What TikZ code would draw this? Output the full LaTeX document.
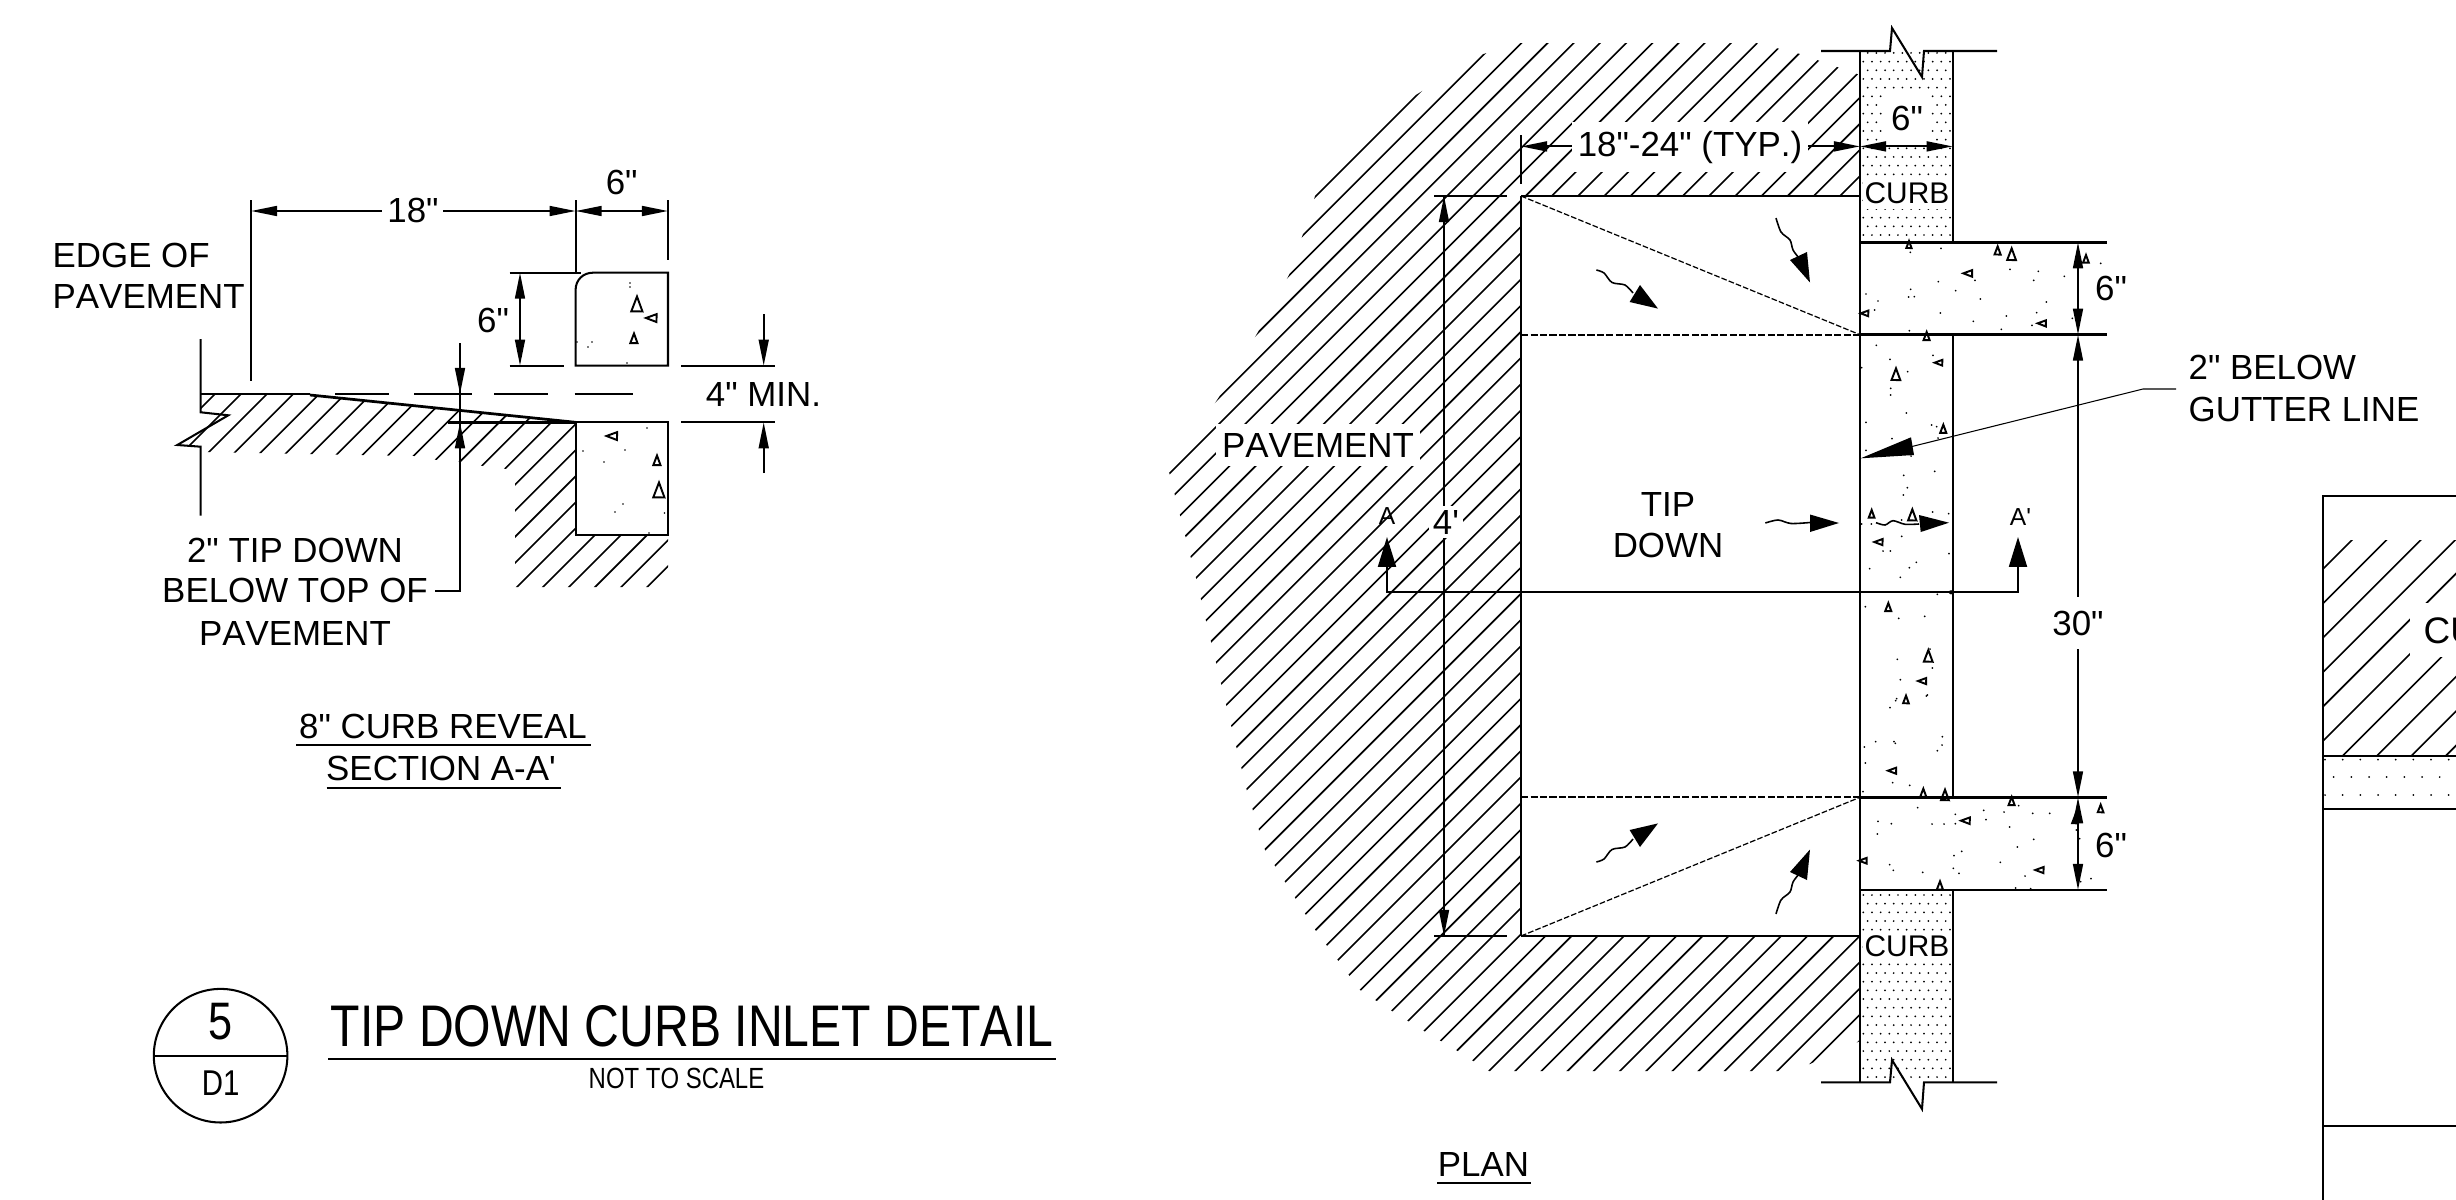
\documentclass[tikz,border=0pt]{standalone}
\usepackage{fontspec}
\setmainfont{Liberation Sans}
\newfontfamily\plainf[Kerning=Off]{Liberation Sans}
\newfontfamily\narrowf[FakeStretch=0.82,Kerning=Off]{Liberation Sans}
\usetikzlibrary{arrows.meta}
\newcommand{\fsz}[1]{\plainf\fontsize{#1}{#1}\selectfont}
\newcommand{\nsz}[1]{\narrowf\fontsize{#1}{#1}\selectfont}
\tikzset{
  ln/.style={line width=.58pt,line join=miter},
  heavy/.style={line width=.78pt},
  hatchln/.style={line width=.46pt},
  thinln/.style={line width=.3pt},
  dashln/.style={line width=.5pt,dash pattern=on 2pt off .7pt},
  dashthin/.style={line width=.35pt,dash pattern=on 1.6pt off .6pt},
  hd/.tip={Triangle[length=7.4pt,width=2.8pt]},
  dimboth/.style={ln,{hd}-{hd}},
  dimend/.style={ln,-{hd}},
  cutend/.style={line width=.6pt,-{Triangle[length=8.5pt,width=5.1pt]}},
  lab/.style={font=\fsz{9.92},inner sep=0pt},
  labbg/.style={lab,fill=white,inner xsep=1.6pt,inner ysep=2.6pt},
  small/.style={font=\fsz{8.5},inner sep=0pt,fill=white,inner xsep=.6pt,inner ysep=1.4pt},
  mini/.style={font=\fsz{7},inner sep=0pt},
  tris/.style={line width=.55pt,line join=miter},
  head/.style={fill=black,draw=none},
  wig/.style={line width=.45pt},
}
\newcommand{\trilist}[1]{\foreach \px/\py/\pa/\ps in {#1}{\draw[shift={(\px,\py)},tris] (\pa:\ps) -- ({\pa+140}:\ps) -- ({\pa+222}:\ps) -- cycle;}}
\newcommand{\dotlist}[1]{\foreach \px/\py in {#1}{\fill (\px,\py) circle[radius=.28pt];}}
\begin{document}
\begin{tikzpicture}[x=.01cm,y=-.01cm]
\useasboundingbox (0,0) rectangle (2456,1200);
\fill[white] (0,0) rectangle (2456,1200);

% ---------- SECTION (left) ----------
\begin{scope}
\clip (200.5,394) -- (311.6,395) -- (575.6,422.3) -- (575.6,535) -- (668,535) -- (668,587) -- (515,587) -- (515,470) -- (483,466) -- (460,462) -- (437,460) -- (414,456) -- (205,452) -- (188,446) -- (214,415) -- (200.5,413) -- cycle;
\foreach \k in {0,...,30}{
  \pgfmathsetmacro{\s}{609+26.05*\k}
  \draw[hatchln] (\s-100,100) -- (\s-800,800);
}
\end{scope}
% curb blocks
\draw[ln] (575.6,365.7) -- (575.6,290) .. controls (575.6,280) and (583,272.7) .. (593,272.7) -- (668,272.7) -- (668,365.7) -- cycle;
\draw[ln] (575.6,422.3) rectangle (668,535);
\trilist{637/305/-90/8.5,652/318/180/6,634/339/-90/5.5,612.5/436/180/6,657/461/-90/5.5,659/491/-90/8.5}
\dotlist{630/283,630/287,592/342,588/347,577/342,627/363,647/428,583/451,625/450,604/462,623/504,615/512,664.5/513,649/533}
% pavement surface
\draw[ln] (200.7,339) -- (200.7,412.3) -- (228.3,415.3) -- (177.3,445) -- (200.7,446.7) -- (200.7,515.7);
\draw[heavy] (200.7,394) -- (310,394);
\draw[heavy] (310,395) -- (575.6,422.3);
\foreach \a/\b in {335/389,414/472,494/548,574.5/633}{\draw[ln] (\a,394) -- (\b,394);}
\draw[heavy] (448.3,422.3) -- (575.6,422.3);
% extension lines
\draw[ln] (251,200) -- (251,381);
\draw[ln] (575.6,200) -- (575.6,273);
\draw[ln] (668,200) -- (668,260);
\draw[ln] (509.5,272.7) -- (581,272.7);
\draw[ln] (509.5,365.7) -- (564,365.7);
\draw[ln] (681,365.7) -- (775,365.7);
\draw[ln] (681,422.3) -- (775,422.3);
% dims
\draw[ln,{hd}-] (251,211) -- (382,211);
\draw[ln,-{hd}] (443,211) -- (575.6,211);
\draw[dimboth] (575.6,211) -- (668,211);
\draw[dimboth] (520,272.7) -- (520,365.7);
\draw[dimend] (763.7,314) -- (763.7,365.7);
\draw[dimend] (763.7,473) -- (763.7,422.3);
\draw[ln] (435,591) -- (460,591) -- (460,342.7);
\draw[dimend] (460,360) -- (460,394);
\draw[dimend] (460,470) -- (460,422.3);
% labels
\node[lab] (t18) at (413,210) {18"};
\node[lab] (t6a) at (621.7,182) {6"};
\node[lab] (t6b) at (493,320) {6"};
\node[lab] (t4) at (763.5,394) {4" MIN.};
\node[lab,anchor=west] (tedge1) at (52,255) {EDGE OF};
\node[lab,anchor=west] (tedge2) at (52,296.7) {PAVEMENT};
\node[lab] (ttip1) at (295,550) {2" TIP DOWN};
\node[lab] (ttip2) at (295,590.7) {BELOW TOP OF};
\node[lab] (ttip3) at (295,633) {PAVEMENT};
\node[lab] (tsec1) at (443,726) {8" CURB REVEAL};
\node[lab] (tsec2) at (441,768) {SECTION A-A'};
\draw[ln] (296,745) -- (590.5,745);
\draw[ln] (326.5,787.7) -- (561,787.7);

% ---------- TITLE ----------
\node[draw,circle,line width=.58pt,minimum size=134*.2835pt,inner sep=0pt] (ring) at (220.6,1055.7) {};
\draw[ln] (ring.west) -- (ring.east);
\node[inner sep=0pt,font=\nsz{15}] (num) at (220.6,1022) {5};
\node[inner sep=0pt,font=\nsz{10.2}] (sheet) at (220.6,1083) {D1};
\node[inner sep=0pt,font=\nsz{16.7}] (title) at (692,1026) {TIP DOWN CURB INLET DETAIL};
\draw[heavy] (328,1059) -- (1056,1059);
\node[inner sep=0pt,font=\nsz{8.3}] (nts) at (676.5,1078) {NOT TO SCALE};

% ---------- PLAN ----------
\begin{scope}
\clip (1521,43) -- (1756,43) -- (1800,54) -- (1860,75) -- (1860,1041) -- (1810,1064) -- (1778,1071) -- (1489,1071) -- (1456,1050) -- (1424,1031) -- (1392,1011) -- (1360,990) -- (1316,931) -- (1265,850) -- (1246.7,790) -- (1206,621) -- (1196,578) -- (1169,472) -- (1221,394) -- (1258,332) -- (1289,275) -- (1303,234) -- (1316,193) -- (1403,103) -- (1480,55) -- cycle;
\foreach \k in {0,...,53}{
  \pgfmathsetmacro{\s}{1512+26.2*\k}
  \draw[hatchln] (\s,0) -- (\s-1200,1200);
}
\end{scope}
\fill[white] (1521,196) rectangle (1860,936);
% curb stipple
\foreach \j in {-18,...,3}{
  \pgfmathsetmacro{\yy}{209+8.67*\j}
  \pgfmathtruncatemacro{\odd}{mod(\j+100,2)}
  \pgfmathsetmacro{\xo}{\odd==1 ? 1863.3 : 1867.7}
  \pgfmathtruncatemacro{\nn}{\odd==1 ? 10 : 9}
  \foreach \i in {0,...,\nn}{\fill ({\xo+8.67*\i},\yy) circle[radius=.28pt];}
}
\foreach \j in {0,...,21}{
  \pgfmathsetmacro{\yy}{895+8.67*\j}
  \pgfmathtruncatemacro{\odd}{mod(\j,2)}
  \pgfmathsetmacro{\xo}{\odd==0 ? 1863.3 : 1867.7}
  \pgfmathtruncatemacro{\nn}{\odd==0 ? 10 : 9}
  \foreach \i in {0,...,\nn}{\fill ({\xo+8.67*\i},\yy) circle[radius=.28pt];}
}
% inlet
\draw[heavy] (1521,196) -- (1860,196);
\draw[heavy] (1521,936) -- (1860,936);
\draw[ln] (1521,196) -- (1521,936);
\draw[ln] (1521,135) -- (1521,184);
\draw[ln] (1434,196) -- (1507,196);
\draw[ln] (1434,936) -- (1507,936);
\draw[dashln] (1521,334.7) -- (1860,334.7);
\draw[dashln] (1521,797.3) -- (1860,797.3);
\draw[dashthin] (1521,196) -- (1860,334.7);
\draw[dashthin] (1521,936) -- (1860,797.3);
% curb
\draw[ln] (1860,51) -- (1860,1082.4);
\draw[ln] (1952.7,51) -- (1952.7,242.3);
\draw[ln] (1952.7,334.7) -- (1952.7,797.3);
\draw[ln] (1952.7,890) -- (1952.7,1082.4);
\draw[ln] (1821,51) -- (1890,51) -- (1892,28) -- (1922,77) -- (1924,51) -- (1997,51);
\draw[ln] (1821,1082.4) -- (1890,1082.4) -- (1892,1060) -- (1922,1109) -- (1924,1082.4) -- (1997,1082.4);
\draw[heavy] (1860,242.3) -- (2107,242.3);
\draw[heavy] (1860,334.7) -- (2107,334.7);
\draw[heavy] (1860,797.3) -- (2107,797.3);
\draw[heavy] (1860,890) -- (2107,890);
% concrete texture
\begin{scope}[shift={(1830,200)},x=.01cm/3,y=-.01cm/3]
\trilist{237/135/-90/12,503/153/-90/14,545/165/-90/20,415/220/180/15,105/340/180/13,637/370/180/14,290/410/-90/14,768/178/-90/13}
\dotlist{241/157,333/145,540/208,625/214,611/241,703/229,812/190,435/241,325/245,242/268,236/291,253/290,377/272,451/297,649/306,108/282,144/303,134/330,331/339,620/338,529/348,430/364,606/376,514/388,238/392,727/355}
\end{scope}
\begin{scope}[shift={(1830,330)},x=.01cm/3,y=-.01cm/3]
\trilist{327/98/180/13,198/135/-90/20,340/298/-90/14,125/553/-90/13,247/557/-90/19,147/636/180/14,175/833/-90/14,295/980/-90/20,278/1053/180/14,228/1110/-90/13,188/1322/180/14,280/1390/-90/14,345/1397/-90/18}
\dotlist{139/46,180/88,233/125,309/76,182/175,182/195,95/113,229/249,108/277,305/285,320/290,186/326,324/324,108/361,243/378,221/436,314/424,232/473,220/495,308/546,356/551,215/570,124/582,95/582,215/619,159/663,181/663,357/671,119/716,259/697,238/713,211/742,322/793,106/830,206/865,284/859,300/957,202/988,307/1014,211/1049,197/1112,200/1106,292/1095,289/1098,180/1133,337/1220,336/1245,322/1262,137/1235,192/1235,196/1240,103/1251,106/1299,188/1358,239/1366,99/1385}
\end{scope}
\begin{scope}[shift={(1830,780)},x=.01cm/3,y=-.01cm/3]
\trilist{545/65/-90/14,408/122/180/15,812/87/-90/13,735/120/-90/13,100/242/180/13,630/270/180/14,330/318/-90/14}
\dotlist{263/83,566/77,376/103,461/91,522/96,608/100,659/100,144/124,184/131,306/132,342/132,376/131,468/119,539/141,739/150,142/162,611/178,749/176,562/201,395/214,372/227,511/247,179/254,190/271,370/265,387/280,278/277,585/288,783/296,752/305,557/324,602/326}
\end{scope}
% flow arrows
\draw[wig] plot[smooth] coordinates {(1596.4,270) (1604,273) (1612,282.5) (1625,285) (1633,293)};
\fill[head] (1658,308.6) -- (1629.6,302) -- (1640,285) -- cycle;
\draw[wig] plot[smooth] coordinates {(1776,218) (1781,232) (1790,240) (1793,250) (1799,258)};
\fill[head] (1810,282.5) -- (1790,260) -- (1807,252) -- cycle;
\draw[wig] plot[smooth] coordinates {(1596.4,862) (1604,859) (1612,849.5) (1625,847) (1633,839)};
\fill[head] (1658,823.4) -- (1629.6,830) -- (1640,847) -- cycle;
\draw[wig] plot[smooth] coordinates {(1776,914) (1781,900) (1790,892) (1793,882) (1799,874)};
\fill[head] (1810,849.5) -- (1790,872) -- (1807,880) -- cycle;
\draw[wig] plot[smooth] coordinates {(1765.4,523) (1778,520) (1791,523.5) (1810,522.5)};
\fill[head] (1839,523) -- (1810,514.5) -- (1810,532) -- cycle;
\draw[wig] plot[smooth] coordinates {(1876,522.7) (1885,525) (1893,520.7) (1905,524.3) (1919,524)};
\fill[head] (1949,522.7) -- (1919,515) -- (1920.7,532) -- cycle;
% leader
\coordinate (leadA) at (2176,389);
\coordinate (leadB) at (2143,389);
\coordinate (leadC) at (1912,446.5);
\draw[thinln] (leadA) -- (leadB) -- (leadC);
\fill[head] (1860.7,458.3) -- (1911,437.3) -- (1914,455) -- cycle;
% cut line
\draw[line width=.6pt] (1387,566) -- (1387,592.3) -- (2018,592.3) -- (2018,566);
\draw[cutend] (1387,570) -- (1387,537);
\draw[cutend] (2018,570) -- (2018,537);
\fill (1951,592.3) circle[radius=.6pt];
% dims plan
\node[mini] (tA) at (1387,516) {A};
\node[mini] (tAp) at (2020.5,517) {A'};
\draw[ln] (1444,196) -- (1444,936);
\draw[ln,-{hd}] (1444,230) -- (1444,196);
\draw[ln,-{hd}] (1444,900) -- (1444,936);
\draw[dimboth] (1521,146.4) -- (1860,146.4);
\draw[dimboth] (1860,146.4) -- (1952.7,146.4);
\draw[dimboth] (2078,242.3) -- (2078,334.7);
\draw[dimboth] (2078,334.7) -- (2078,797.3);
\draw[dimboth] (2078,797.3) -- (2078,890);
% plan labels
\node[labbg] (tpav) at (1318,445) {PAVEMENT};
\node[lab,fill=white,inner xsep=1pt,inner ysep=1pt] (t4ft) at (1446,522) {4'};
\node[labbg] (ttyp) at (1690,147) {18"-24" (TYP.)};
\node[lab,fill=white,inner xsep=2pt,inner ysep=3pt] (t6c) at (1907,118) {6"};
\node[small] (tcurb1) at (1907,193) {CURB};
\node[small] (tcurb2) at (1907,946) {CURB};
\node[lab] (t6d) at (2111,288) {6"};
\node[lab] (t6e) at (2111,845) {6"};
\node[lab,fill=white,inner ysep=4pt,inner xsep=1pt] (t30) at (2078,623) {30"};
\node[lab] (ttd1) at (1668,504) {TIP};
\node[lab] (ttd2) at (1668,545) {DOWN};
\node[lab,anchor=west] (tb1) at (2188,367.7) {2" BELOW};
\node[lab,anchor=west] (tb2) at (2188,409) {GUTTER LINE};
\node[lab] (tplan) at (1483.5,1164) {PLAN};
\draw[ln] (1437,1183) -- (1531,1183);

% ---------- RIGHT PANEL ----------
\begin{scope}
\clip (2323,540) rectangle (2456,756);
\foreach \k in {0,...,9}{
  \pgfmathsetmacro{\s}{2892+34.4*\k}
  \draw[hatchln] (\s-500,500) -- (\s-800,800);
}
\end{scope}
\fill[white] (2410,603) rectangle (2456,657);
\node[font=\fsz{10.5},inner sep=0pt,anchor=west] (tcu) at (2423,630.6) {CU};
\foreach \i in {0,...,7}{
  \fill ({2325+17.67*\i},759.6) circle[radius=.28pt];
  \fill ({2325+17.67*\i},795) circle[radius=.28pt];
  \fill ({2333.7+17.67*\i},777) circle[radius=.28pt];
}
\draw[heavy] (2456,496) -- (2323,496) -- (2323,1200);
\draw[ln] (2323,756) -- (2456,756);
\draw[ln] (2323,809) -- (2456,809);
\draw[ln] (2323,1126.4) -- (2456,1126.4);
\end{tikzpicture}
\end{document}
